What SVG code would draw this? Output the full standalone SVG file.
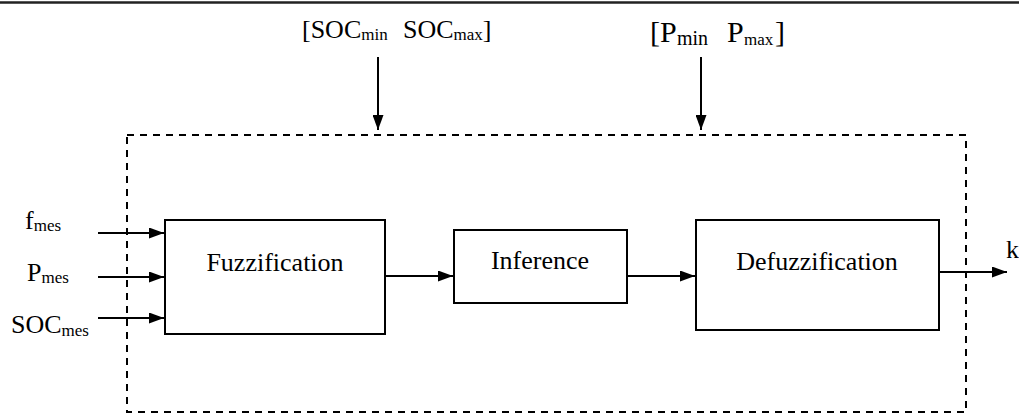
<svg xmlns="http://www.w3.org/2000/svg" width="1019" height="414" viewBox="0 0 1019 414" font-family="'Liberation Serif', 'Times New Roman', serif">
<style>
text{font-family:"Liberation Serif","Times New Roman",serif;fill:#000}
.lbl{font-size:26px}
.sub{font-size:17px}
.box{fill:#fff;stroke:#000;stroke-width:2}
.conn{stroke:#000;stroke-width:2;fill:none}
</style>
<defs>
<marker id="ah" markerUnits="userSpaceOnUse" markerWidth="16" markerHeight="11" refX="15" refY="5.5" orient="auto">
<path d="M0,0 L15,5.5 L0,11 z" fill="#000"/>
</marker>
</defs>
<rect width="1019" height="414" fill="#fff"/>
<line x1="0" y1="2.5" x2="1019" y2="2.5" stroke="#222" stroke-width="2.5"/>
<rect id="boundary" x="127" y="135" width="839" height="277" fill="none" stroke="#000" stroke-width="2" stroke-dasharray="7 6"/>

<g id="labels">
<text class="lbl" x="302" y="38">[SOC<tspan class="sub" dy="2">min</tspan></text>
<text class="lbl" x="403" y="38">SOC<tspan class="sub" dy="2">max</tspan><tspan dy="-2">]</tspan></text>
<text x="650" y="42" style="font-size:30px">[P<tspan x="677" dy="3" style="font-size:20px">min</tspan></text>
<text x="727" y="42" style="font-size:30px">P<tspan x="744" dy="3" style="font-size:17px">max</tspan><tspan x="775" dy="-3">]</tspan></text>
<text class="lbl" x="25" y="229">f<tspan class="sub" dy="2">mes</tspan></text>
<text class="lbl" x="27" y="281">P<tspan class="sub" dy="2">mes</tspan></text>
<text class="lbl" x="11" y="333">SOC<tspan class="sub" dy="3">mes</tspan></text>
<text class="lbl" x="1006" y="258">k</text>
</g>

<g id="fuzzification">
<rect class="box" x="165" y="220" width="220" height="114"/>
<text class="lbl" x="275" y="271" text-anchor="middle">Fuzzification</text>
</g>
<g id="inference">
<rect class="box" x="454" y="230" width="173" height="73"/>
<text class="lbl" x="540" y="269" text-anchor="middle">Inference</text>
</g>
<g id="defuzzification">
<rect class="box" x="696" y="220" width="243" height="110"/>
<text class="lbl" x="817" y="270" text-anchor="middle">Defuzzification</text>
</g>

<g id="connectors">
<line class="conn" x1="378" y1="57" x2="378" y2="130" marker-end="url(#ah)"/>
<line class="conn" x1="701" y1="57" x2="701" y2="130" marker-end="url(#ah)"/>
<line class="conn" x1="98" y1="233" x2="164" y2="233" marker-end="url(#ah)"/>
<line class="conn" x1="98" y1="277" x2="164" y2="277" marker-end="url(#ah)"/>
<line class="conn" x1="98" y1="318" x2="164" y2="318" marker-end="url(#ah)"/>
<line class="conn" x1="385" y1="276" x2="453" y2="276" marker-end="url(#ah)"/>
<line class="conn" x1="627" y1="276" x2="695" y2="276" marker-end="url(#ah)"/>
<line class="conn" x1="939" y1="272" x2="1007" y2="272" marker-end="url(#ah)"/>
</g>
</svg>
